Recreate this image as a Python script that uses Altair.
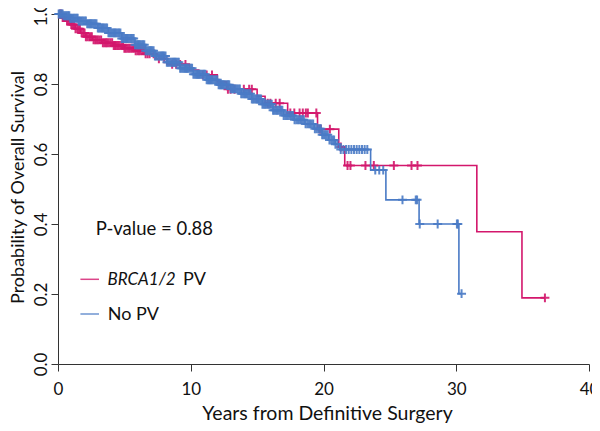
import altair as alt
import pandas as pd

# ---------------- data ----------------
GROUPS = ["BRCA1/2 PV", "No PV"]
COLORS = ["#d3176c", "#4a7bc6"]

# BRCA1/2 PV: step curve (event times, survival after the event)
pv_time = [0, 0.3, 0.6, 1.0, 1.3, 1.7, 2.1, 2.6, 3.3, 4.2, 5.0, 5.8, 6.6, 7.4, 8.2,
           9.9, 10.6, 12.0, 12.7, 15.0, 15.6, 17.3, 19.55, 21.15, 21.6, 31.55, 34.95, 36.68]
pv_surv = [1.0, 0.99, 0.98, 0.97, 0.958, 0.946, 0.935, 0.926, 0.918, 0.91, 0.902, 0.895, 0.886, 0.872, 0.856,
           0.84, 0.826, 0.806, 0.785, 0.765, 0.745, 0.717, 0.671, 0.62, 0.567, 0.378, 0.189, 0.189]
pv_cens = [0.15, 0.25, 0.35, 0.45, 0.55, 0.68, 0.8, 0.9, 1.0, 1.1, 1.2, 1.32, 1.45, 1.55, 1.65,
           1.78, 1.9, 2.0, 2.1, 2.22, 2.35, 2.45, 2.55, 2.68, 2.8, 2.9, 3.0, 3.12, 3.25, 3.38,
           3.5, 3.6, 3.7, 3.82, 3.95, 4.08, 4.2, 4.3, 4.4, 4.52, 4.65, 4.78, 4.9, 5.0, 5.1,
           5.22, 5.35, 5.48, 5.6, 5.72, 5.85, 5.98, 6.1, 6.22, 6.35, 6.48, 6.6, 6.75, 6.9,
           7.2, 7.6, 8.0, 8.6, 8.9, 9.2, 9.6, 10.9, 11.2, 11.6, 12.8, 13.0, 13.3, 14.0, 14.4,
           14.6, 15.8, 16.0, 16.4, 16.7, 17.5, 17.8, 18.2, 18.44, 18.67, 18.82, 19.46, 19.7,
           19.8, 20.48, 21.3, 21.81, 22.03, 23.16, 23.79, 25.3, 26.63, 27.08, 36.68]

# No PV
nopv_time = [0, 0.4, 0.9, 1.5, 2.2, 3.0, 3.8, 4.8, 5.8, 6.6, 7.3, 8.2, 9.2, 10.2, 11.2, 12.1,
             13.0, 13.8, 14.6, 15.4, 16.2, 17.0, 17.8, 18.6, 19.3, 19.9, 20.4, 20.9, 21.2,
             23.55, 24.7, 27.2, 30.2, 30.4]
nopv_surv = [1.0, 0.995, 0.988, 0.98, 0.972, 0.96, 0.946, 0.93, 0.912, 0.895, 0.88, 0.862, 0.845,
             0.828, 0.812, 0.798, 0.786, 0.772, 0.757, 0.742, 0.725, 0.71, 0.698, 0.686, 0.672,
             0.655, 0.64, 0.628, 0.613, 0.554, 0.469, 0.40, 0.201, 0.201]
nopv_cens = [0.05, 0.12, 0.2, 0.28, 0.35, 0.42, 0.5, 0.6, 0.7, 0.78, 0.85, 0.92, 1.0, 1.1, 1.2,
             1.3, 1.4, 1.48, 1.55, 1.62, 1.7, 1.8, 1.9, 2.0, 2.1, 2.2, 2.3, 2.38, 2.45, 2.52,
             2.6, 2.7, 2.8, 2.9, 3.0, 3.1, 3.2, 3.28, 3.35, 3.42, 3.5, 3.6, 3.7, 3.8, 3.9, 4.0,
             4.1, 4.18, 4.25, 4.32, 4.4, 4.5, 4.6, 4.7, 4.8, 4.9, 5.0, 5.08, 5.15, 5.22, 5.3,
             5.4, 5.5, 5.6, 5.7, 5.8, 5.9, 5.98, 6.05, 6.12, 6.2, 6.3, 6.4, 6.5, 6.6, 6.7, 6.8,
             6.88, 6.95, 7.02, 7.1, 7.2, 7.3, 7.4, 7.5, 7.6, 7.7, 7.78, 7.85, 7.92, 8.0, 8.1,
             8.2, 8.3, 8.4, 8.5, 8.6, 8.68, 8.75, 8.82, 8.9, 9.0, 9.1, 9.2, 9.3, 9.4, 9.5, 9.58,
             9.65, 9.72, 9.8, 9.9, 10.0, 10.1, 10.2, 10.3, 10.4, 10.48, 10.55, 10.62, 10.7,
             10.8, 10.9, 11.0, 11.1, 11.2, 11.3, 11.38, 11.45, 11.52, 11.6, 11.7, 11.8, 11.9,
             12.0, 12.1, 12.2, 12.28, 12.35, 12.42, 12.5, 12.6, 12.7, 12.8, 12.9, 13.0, 13.1,
             13.18, 13.25, 13.32, 13.4, 13.5, 13.6, 13.7, 13.8, 13.9, 14.0, 14.08, 14.15, 14.22,
             14.3, 14.4, 14.5, 14.6, 14.7, 14.8, 14.9, 14.98, 15.05, 15.12, 15.2, 15.3, 15.4,
             15.5, 15.6, 15.7, 15.8, 15.9, 16.0, 16.1, 16.2, 16.3, 16.4, 16.5, 16.6, 16.7, 16.8,
             16.9, 17.0, 17.12, 17.25, 17.38, 17.5, 17.6, 17.7, 17.82, 17.95, 18.08, 18.2, 18.3,
             18.4, 18.52, 18.65, 18.78, 18.9, 19.0, 19.1, 19.22, 19.35, 19.48, 19.6, 19.7, 19.8,
             19.9, 20.0, 20.1, 20.2, 20.32, 20.45, 20.58, 20.7, 20.8, 20.9, 21.05, 21.3, 21.5,
             21.7, 21.9, 22.1, 22.3, 22.5, 22.7, 22.9, 23.1, 23.3, 23.9, 24.2, 24.5, 25.95,
             26.95, 27.05, 27.25, 28.6, 30.05, 30.12, 30.4]

X_TICKS = [0, 10, 20, 30, 40]
Y_TICKS = [0.0, 0.2, 0.4, 0.6, 0.8, 1.0]
P_TEXT = "P-value = 0.88"
LEG_ITALIC = "BRCA1/2"
LEG_PV = "PV"
LEG_NO = "No PV"


def step_at(times, survs, t):
    s = survs[0]
    for ti, si in zip(times, survs):
        if ti <= t:
            s = si
        else:
            break
    return s


def curve_df(group, times, survs):
    return pd.DataFrame({"group": group, "time": times, "surv": survs,
                         "ord": list(range(len(times)))})


def cens_df(group, cens, times, survs):
    return pd.DataFrame({"group": group, "time": cens,
                         "surv": [step_at(times, survs, c) for c in cens]})


pv_line = curve_df(GROUPS[0], pv_time, pv_surv)
no_line = curve_df(GROUPS[1], nopv_time, nopv_surv)
pv_c = cens_df(GROUPS[0], pv_cens, pv_time, pv_surv)
no_c = cens_df(GROUPS[1], nopv_cens, nopv_time, nopv_surv)

X = alt.X("time:Q", scale=alt.Scale(domain=[0, 40], nice=False),
          axis=alt.Axis(values=X_TICKS, title="Years from Definitive Surgery", grid=False,
                        tickSize=7, labelPadding=10, labelBaseline="top", labelFlush=False,
                        labelOverlap=False, titleX=269, titleY=55, titleFontSize=19.5,
                        titleBaseline="alphabetic", titleAlign="center"))
Y = alt.Y("surv:Q", scale=alt.Scale(domain=[0, 1], nice=False),
          axis=alt.Axis(values=Y_TICKS, format=".1f", title="Probability of Overall Survival",
                        grid=False, tickSize=7, labelAngle=270, labelAlign="center",
                        labelBaseline="alphabetic", labelPadding=5, labelFlush=False,
                        labelOverlap=False, titleAngle=270, titleX=-34.5, titleY=173,
                        titleBaseline="alphabetic", titleAlign="center"))
C = alt.Color("group:N", scale=alt.Scale(domain=GROUPS, range=COLORS), legend=None)

PLUS = "M-1,0L1,0M0,-1L0,1"


def line_layer(df):
    return alt.Chart(df).mark_line(interpolate="step-after", strokeWidth=1.6).encode(
        x=X, y=Y, color=C, order="ord:Q")


def cens_layer(df):
    return alt.Chart(df).mark_point(shape=PLUS, filled=False, size=80, strokeWidth=2,
                                    opacity=0.9).encode(x=X, y=Y, color=C)


txt_font = "Lato"
p_text = alt.Chart(pd.DataFrame({"t": [P_TEXT]})).mark_text(
    font=txt_font, fontSize=18.5, align="left", baseline="alphabetic", color="#111").encode(
    x=alt.value(37.7), y=alt.value(221), text="t:N")

leg_pv_rule = alt.Chart(pd.DataFrame({"g": [GROUPS[0]]})).mark_rule(
    color=COLORS[0], strokeWidth=1.5, opacity=0.8).encode(
    x=alt.value(22.4), x2=alt.value(41), y=alt.value(265.3), y2=alt.value(265.3))
leg_no_rule = alt.Chart(pd.DataFrame({"g": [GROUPS[1]]})).mark_rule(
    color=COLORS[1], strokeWidth=1.5, opacity=0.8).encode(
    x=alt.value(22.4), x2=alt.value(41), y=alt.value(300), y2=alt.value(300))

leg_pv_it = alt.Chart(pd.DataFrame({"t": [LEG_ITALIC]})).mark_text(
    font=txt_font, fontSize=17, fontStyle="italic", align="left", baseline="alphabetic",
    color="#111").encode(x=alt.value(49.4), y=alt.value(271), text="t:N")
leg_pv_txt = alt.Chart(pd.DataFrame({"t": [LEG_PV]})).mark_text(
    font=txt_font, fontSize=18, align="left", baseline="alphabetic",
    color="#111").encode(x=alt.value(125), y=alt.value(271), text="t:N")
leg_no_txt = alt.Chart(pd.DataFrame({"t": [LEG_NO]})).mark_text(
    font=txt_font, fontSize=18, align="left", baseline="alphabetic",
    color="#111").encode(x=alt.value(49.7), y=alt.value(306), text="t:N")

chart = alt.layer(
    line_layer(pv_line), cens_layer(pv_c),
    line_layer(no_line), cens_layer(no_c),
    p_text, leg_pv_rule, leg_no_rule, leg_pv_it, leg_pv_txt, leg_no_txt,
).properties(
    width=531, height=350,
    padding={"left": 50, "top": 6, "right": 3, "bottom": 59},
    autosize="none",
).configure_axis(
    domainColor="#333", tickColor="#333", labelColor="#111", titleColor="#111",
    labelFont="Lato", titleFont="Lato", labelFontSize=17, titleFontSize=18,
    titleFontWeight="normal", domainWidth=1, tickWidth=1,
).configure_view(stroke=None)

chart.save("out.html", embed_options={"renderer": "svg", "actions": False})
